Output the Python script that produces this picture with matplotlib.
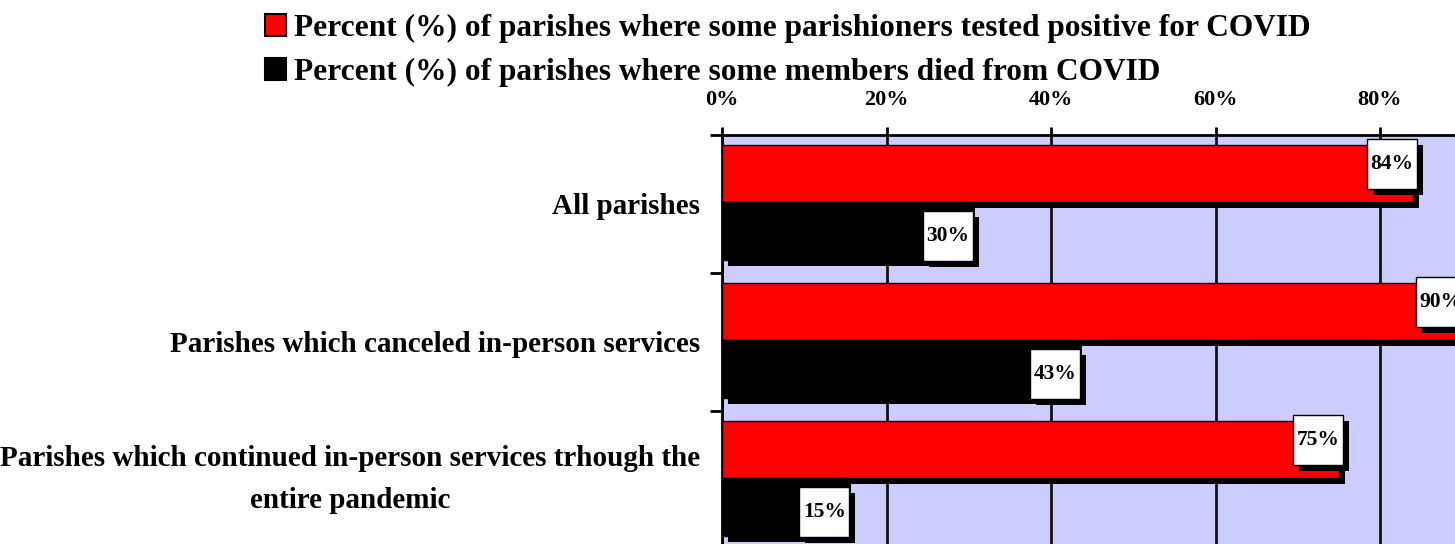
import matplotlib
matplotlib.use("Agg")
import matplotlib.pyplot as plt
import matplotlib.transforms as mtransforms
from matplotlib.patches import Rectangle, Patch

categories = [
    "All parishes",
    "Parishes which canceled in-person services",
    "Parishes which continued in-person services trhough the\nentire pandemic",
]
positive_pct = [84, 90, 75]
died_pct = [30, 43, 15]
series_labels = [
    "Percent (%) of parishes where some parishioners tested positive for COVID",
    "Percent (%) of parishes where some members died from COVID",
]
xticks = [0, 20, 40, 60, 80, 100]
xtick_labels = ["0%", "20%", "40%", "60%", "80%", "100%"]

FONT = "Liberation Serif"
plt.rcParams["font.family"] = [FONT, "DejaVu Serif"]
plt.rcParams["font.weight"] = "bold"

W, H = 1455, 544
fig = plt.figure(figsize=(W / 100, H / 100), dpi=100)
ax = fig.add_axes([722 / W, 1 - 548.5 / H, 822.5 / W, 414 / H])
ax.set_facecolor("#ccccff")

ypos = list(range(len(categories)))
bh = 0.415
off = 0.21
shift = -0.01
red_y = [y - off + shift for y in ypos]
blk_y = [y + off + shift for y in ypos]

shadow = mtransforms.offset_copy(ax.transData, fig=fig, x=6, y=-6, units="dots")
ax.barh(red_y, positive_pct, height=bh, color="black", transform=shadow, zorder=2)
ax.barh(blk_y, died_pct, height=bh, color="black", transform=shadow, zorder=2)
ax.barh(red_y, positive_pct, height=bh, color="#ff0000", edgecolor="black", lw=1, zorder=3)
ax.barh(blk_y, died_pct, height=bh, color="black", edgecolor="black", lw=1, zorder=3)

# value labels in white boxes with drop shadow
BW, BHT = 50, 50
def add_label(v, y, dy):
    base = mtransforms.ScaledTranslation(v, y, ax.transData)
    sh = Rectangle((4 - BW + 6, dy - BHT / 2 - 6), BW, BHT, facecolor="black",
                   edgecolor="none", transform=mtransforms.Affine2D() + base, zorder=4)
    bx = Rectangle((4 - BW, dy - BHT / 2), BW, BHT, facecolor="white",
                   edgecolor="black", lw=1, transform=mtransforms.Affine2D() + base, zorder=5)
    ax.add_artist(sh)
    ax.add_artist(bx)
    ax.annotate(f"{v}%", xy=(v, y), xytext=(4 - BW / 2, dy), textcoords="offset pixels",
                ha="center", va="center", fontsize=15.5, fontweight="bold", zorder=6)

for v, y in zip(positive_pct, red_y):
    add_label(v, y, 9)
for v, y in zip(died_pct, blk_y):
    add_label(v, y, -5)

ax.set_xlim(0, 100)
ax.set_ylim(len(categories) - 0.5, -0.5)

ax.xaxis.tick_top()
ax.set_xticks(xticks)
ax.set_xticklabels(xtick_labels, fontsize=16, fontweight="bold")
ax.tick_params(axis="x", direction="out", length=6, width=2, pad=12)
ax.xaxis.grid(True, color="#111111", lw=2)
ax.set_axisbelow(True)

ax.set_yticks([y - 0.5 for y in ypos] + [len(categories) - 0.5])
ax.set_yticklabels([])
ax.set_yticks(ypos, minor=True)
ax.set_yticklabels(categories, minor=True, fontsize=21, fontweight="bold")
for lab in ax.get_yticklabels(minor=True):
    lab.set_multialignment("center")
    lab.set_linespacing(1.72)
    if "\n" in lab.get_text():
        lab.set_verticalalignment("center")
ax.tick_params(axis="y", which="major", direction="out", length=9, width=2)
ax.tick_params(axis="y", which="minor", length=0, pad=16)

for s in ["right", "bottom"]:
    ax.spines[s].set_visible(False)
ax.spines["top"].set_linewidth(2)
ax.spines["left"].set_linewidth(2)

handles = [Patch(facecolor="#ff0000", edgecolor="black", lw=1.5),
           Patch(facecolor="black", edgecolor="black", lw=1.5)]
fig.legend(handles, series_labels, loc="upper left", bbox_to_anchor=(265 / W, 1 - 14 / H),
           frameon=False, handlelength=0.68, handleheight=0.68,
           handletextpad=0.25, labelspacing=0.48, borderpad=0, borderaxespad=0,
           prop={"weight": "bold", "size": 22.6})

fig.savefig("out.png", dpi=100)
